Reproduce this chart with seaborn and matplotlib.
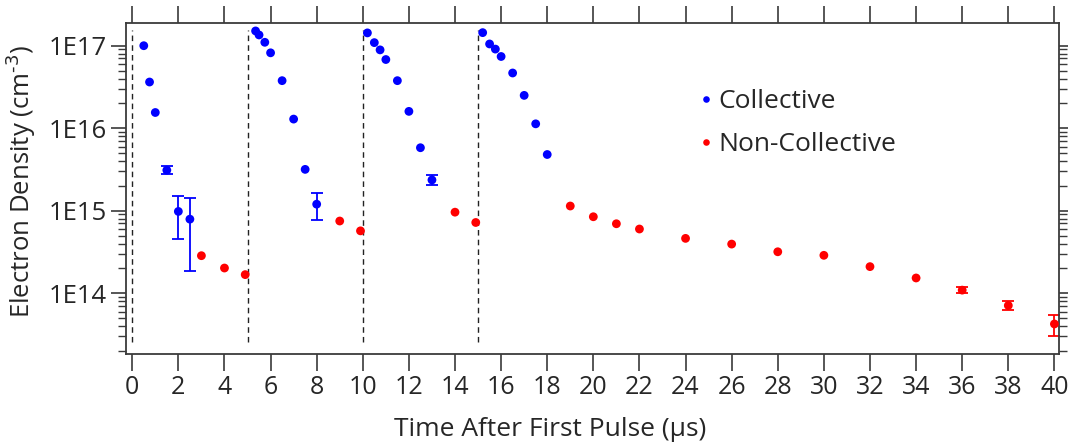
import numpy as np
import pandas as pd
import matplotlib
matplotlib.use("Agg")
import matplotlib.pyplot as plt
import matplotlib.ticker as mticker
import seaborn as sns

# ---- data ----
coll_t = [0.5, 0.75, 1.0, 1.5, 2.0, 2.5,
          5.35, 5.5, 5.75, 6.0, 6.5, 7.0, 7.5, 8.0,
          10.2, 10.5, 10.75, 11.0, 11.5, 12.0, 12.5, 13.0,
          15.2, 15.5, 15.75, 16.0, 16.5, 17.0, 17.5, 18.0]
coll_n = [1.0e17, 3.63e16, 1.55e16, 3.1e15, 9.8e14, 7.9e14,
          1.51e17, 1.35e17, 1.1e17, 8.2e16, 3.77e16, 1.29e16, 3.17e15, 1.2e15,
          1.43e17, 1.09e17, 8.9e16, 6.8e16, 3.77e16, 1.6e16, 5.8e15, 2.36e15,
          1.44e17, 1.05e17, 9.1e16, 7.4e16, 4.67e16, 2.5e16, 1.13e16, 4.8e15]
coll_lo = [0, 0, 0, 2.75e15, 4.6e14, 1.86e14,
           0, 0, 0, 0, 0, 0, 0, 7.8e14,
           0, 0, 0, 0, 0, 0, 0, 2.05e15,
           0, 0, 0, 0, 0, 0, 0, 0]
coll_hi = [0, 0, 0, 3.5e15, 1.51e15, 1.41e15,
           0, 0, 0, 0, 0, 0, 0, 1.62e15,
           0, 0, 0, 0, 0, 0, 0, 2.7e15,
           0, 0, 0, 0, 0, 0, 0, 0]

nonc_t = [3.0, 4.0, 4.9, 9.0, 9.9, 14.0, 14.9,
          19, 20, 21, 22, 24, 26, 28, 30, 32, 34, 36, 38, 40]
nonc_n = [2.85e14, 2.02e14, 1.68e14, 7.5e14, 5.7e14, 9.6e14, 7.2e14,
          1.14e15, 8.45e14, 6.95e14, 6.0e14, 4.62e14, 3.94e14, 3.18e14,
          2.88e14, 2.1e14, 1.53e14, 1.09e14, 7.1e13, 4.24e13]
nonc_lo = [0]*17 + [1.0e14, 6.3e13, 3.0e13]
nonc_hi = [0]*17 + [1.18e14, 7.95e13, 5.5e13]

pulse_t = [0, 5, 10, 15]
xticks = list(range(0, 41, 2))
ytick_vals = [1e14, 1e15, 1e16, 1e17]
ytick_labels = ["1E14", "1E15", "1E16", "1E17"]

BLUE = "#0000FF"
RED = "#FF0000"
TXT = "#262626"
AX = "#3a3a3a"

sns.set_theme(style="white")
plt.rcParams["font.family"] = ["Open Sans", "DejaVu Sans"]

df = pd.DataFrame({
    "t": coll_t + nonc_t,
    "n": coll_n + nonc_n,
    "kind": ["Collective"] * len(coll_t) + ["Non-Collective"] * len(nonc_t),
})

fig = plt.figure(figsize=(10.68, 4.44), dpi=100)
ax = fig.add_axes([0.118, 0.203, 0.8736, 0.745])

# vertical dashed pulse lines
ax.vlines(pulse_t, 2.57e13, 1.55e17, colors="#222222", linestyles=(0, (4, 3)),
          linewidth=1.0, zorder=1)

def draw_err(t, n, lo, hi, color):
    for ti, ni, l, h in zip(t, n, lo, hi):
        if l > 0 and h > 0:
            ax.errorbar([ti], [ni], yerr=[[ni - l], [h - ni]], fmt="none",
                        ecolor=color, elinewidth=1.3, capsize=4, capthick=1.3, zorder=2)

draw_err(coll_t, coll_n, coll_lo, coll_hi, BLUE)
draw_err(nonc_t, nonc_n, nonc_lo, nonc_hi, RED)

sns.scatterplot(data=df, x="t", y="n", hue="kind",
                palette={"Collective": BLUE, "Non-Collective": RED},
                s=40, edgecolor="none", linewidth=0, ax=ax, zorder=3)

ax.set_yscale("log")
ax.set_xlim(-0.27, 40.2)
ax.set_ylim(1.84e13, 1.88e17)

ax.set_xticks(xticks)
ax.set_xticklabels([str(v) for v in xticks])
ax.set_yticks(ytick_vals)
ax.set_yticklabels(ytick_labels)
ax.yaxis.set_minor_locator(mticker.LogLocator(base=10, subs=np.arange(2, 10)))
ax.yaxis.set_minor_formatter(mticker.NullFormatter())

for s in ax.spines.values():
    s.set_color(AX)
    s.set_linewidth(1.3)

ax.tick_params(axis="x", which="major", direction="out", length=12, width=1.2,
               color=AX, top=True, bottom=True, labeltop=False,
               labelsize=18, labelcolor=TXT, pad=3)
ax.tick_params(axis="y", which="major", direction="out", length=11, width=1.2,
               color=AX, left=True, right=True, labelright=False,
               labelsize=18.5, labelcolor=TXT, pad=3)
ax.tick_params(axis="y", which="minor", direction="out", length=6, width=1.0,
               color=AX, left=True, right=True)

ax.set_xlabel("Time After First Pulse (µs)", fontsize=19, color=TXT)
ax.xaxis.set_label_coords(0.455, -0.19)
ax.set_ylabel(r"Electron Density (cm$^{\text{-}3}$)", fontsize=18.5, color=TXT)
ax.yaxis.set_label_coords(-0.094, 0.52)

leg = ax.legend(loc="upper left", bbox_to_anchor=(0.6146, 0.80), frameon=False,
                fontsize=19, handletextpad=0.2, handlelength=0.5, markerscale=0.75,
                labelspacing=0.69, borderaxespad=0, borderpad=0)
for txt in leg.get_texts():
    txt.set_color(TXT)

fig.savefig("out.png", dpi=100)
